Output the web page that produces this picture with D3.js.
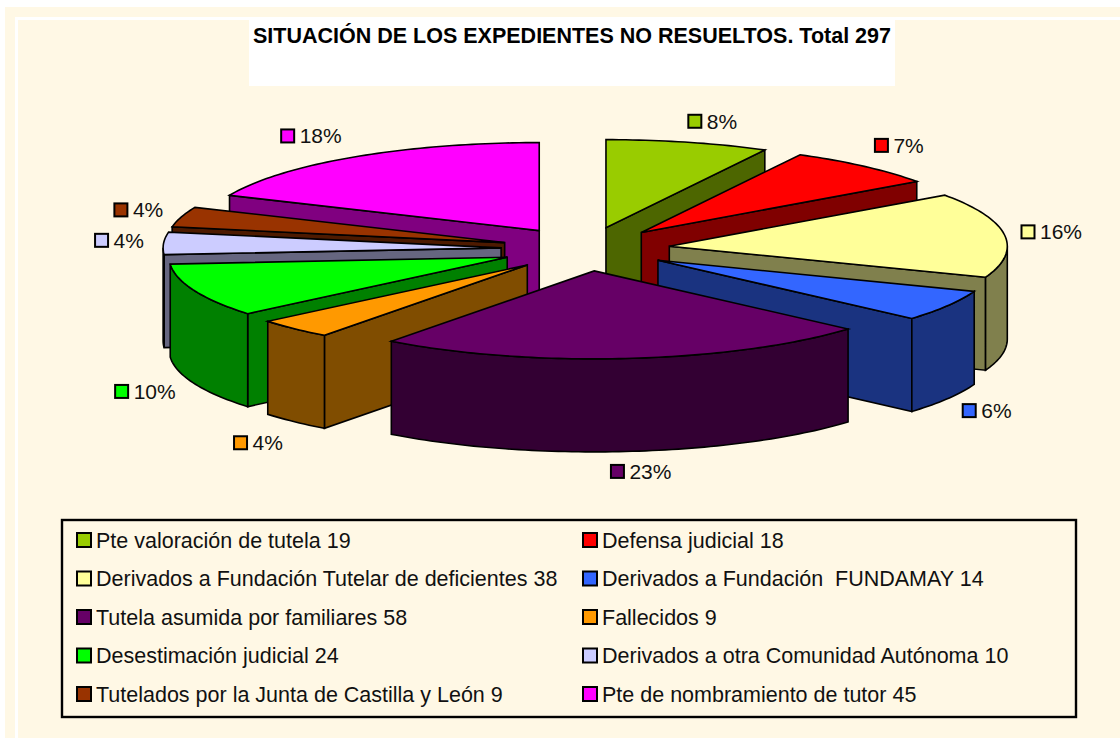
<!DOCTYPE html>
<html lang="es">

<head>
    <meta charset="UTF-8">
    <title>Expedientes no resueltos</title>
    <script src="https://d3js.org/d3.v7.min.js"></script>
    <style>
        html, body { margin: 0; padding: 0; background: #fff; }
        svg { display: block; font-family: "Liberation Sans", Arial, sans-serif; }
    </style>
</head>

<body>
    <svg id="chart" width="1120" height="740"></svg>

    <script>
        const titleText = "SITUACIÓN DE LOS EXPEDIENTES NO RESUELTOS. Total 297";
        const categories = [
            "Pte valoración de tutela 19",
            "Defensa judicial 18",
            "Derivados a Fundación Tutelar de deficientes 38",
            "Derivados a Fundación  FUNDAMAY 14",
            "Tutela asumida por familiares 58",
            "Fallecidos 9",
            "Desestimación judicial 24",
            "Derivados a otra Comunidad Autónoma 10",
            "Tutelados por la Junta de Castilla y León 9",
            "Pte de nombramiento de tutor 45"
        ];
        const values = [19, 18, 38, 14, 58, 9, 24, 10, 9, 45];
        const percentLabels = ["8%", "7%", "16%", "6%", "23%", "4%", "10%", "4%", "4%", "18%"];
        const colors = ["#99cc00", "#ff0000", "#ffff99", "#3366ff", "#660066",
            "#ff9900", "#00ff00", "#ccccff", "#993300", "#ff00ff"];

        // pie geometry
        const cx = 585.5, cy = 249;
        const rx = 338, ry = 88;
        const depth = 93;
        const explode = 0.25;
        // label centre relative to the rim middle of each slice
        const labelNudge = [[25, -21], [35, -21], [47, -3], [39.5, 12], [12, 20],
            [-36, 21], [-49, 8], [-44, -3], [-42.5, -7], [-43, -21]];

        const svg = d3.select("#chart");

        // background, the white frame only shows on the top and left
        svg.append("rect").attr("x", 5).attr("y", 7).attr("width", 1115).attr("height", 731).attr("fill", "#fff8e5");
        svg.append("path").attr("d", "M16.5,738V18.5H1120")
            .attr("fill", "none").attr("stroke", "#fff").attr("stroke-width", 3);

        // title box
        svg.append("rect").attr("x", 249).attr("y", 20).attr("width", 646).attr("height", 66).attr("fill", "#fff");
        svg.append("text")
            .attr("x", 572).attr("y", 43)
            .attr("text-anchor", "middle")
            .style("font-size", "21.5px")
            .style("font-weight", "bold")
            .text(titleText);

        const pie = d3.pie().sort(null).value(d => d);
        const arcs = pie(values).map((a, i) => ({ ...a, i, mid: (a.startAngle + a.endAngle) / 2 }));

        function darker(c) {
            const k = d3.rgb(c);
            return d3.rgb(k.r / 2, k.g / 2, k.b / 2).formatHex();
        }

        function apex(a) {
            return [cx + explode * rx * Math.sin(a.mid), cy - explode * ry * Math.cos(a.mid)];
        }

        function rim(a, t) {
            const p = apex(a);
            return [p[0] + rx * Math.sin(t), p[1] - ry * Math.cos(t)];
        }

        function rimPoints(a, t0, t1) {
            const n = Math.max(2, Math.ceil((t1 - t0) / 0.02));
            return d3.range(n + 1).map(k => rim(a, t0 + (t1 - t0) * k / n));
        }

        const line = d3.line();
        const down = p => [p[0], p[1] + depth];

        // back to front
        const drawOrder = arcs.slice().sort((a, b) =>
            Math.abs(b.mid - Math.PI) - Math.abs(a.mid - Math.PI));

        const slices = svg.append("g")
            .attr("stroke", "#000")
            .attr("stroke-width", 1.6)
            .attr("stroke-linejoin", "miter");

        drawOrder.forEach(a => {
            const g = slices.append("g");
            const side = darker(colors[a.i]);
            const p = apex(a);

            // straight walls that face the viewer
            if (a.startAngle > Math.PI) {
                const q = rim(a, a.startAngle);
                g.append("path").attr("fill", side)
                    .attr("d", line([p, q, down(q), down(p)]) + "Z");
            }
            if (a.endAngle < Math.PI) {
                const q = rim(a, a.endAngle);
                g.append("path").attr("fill", side)
                    .attr("d", line([p, q, down(q), down(p)]) + "Z");
            }

            // curved outer wall, front half only
            const t0 = Math.max(a.startAngle, Math.PI / 2);
            const t1 = Math.min(a.endAngle, Math.PI * 1.5);
            if (t1 > t0) {
                const top = rimPoints(a, t0, t1);
                g.append("path").attr("fill", side)
                    .attr("d", line(top.concat(top.slice().reverse().map(down))) + "Z");
            }

            // top face
            g.append("path").attr("fill", colors[a.i])
                .attr("d", line([p].concat(rimPoints(a, a.startAngle, a.endAngle))) + "Z");
        });

        // data labels
        const labels = svg.append("g").selectAll("g").data(arcs).join("g")
            .attr("transform", a => {
                const q = rim(a, a.mid);
                const below = Math.cos(a.mid) < 0 && Math.abs(Math.sin(a.mid)) < 0.98 ? depth : 0;
                return `translate(${q[0] + labelNudge[a.i][0]},${q[1] + below + labelNudge[a.i][1]})`;
            });
        labels.each(function (a) {
            const g = d3.select(this);
            const w = percentLabels[a.i].length > 2 ? 41 : 30;
            const x0 = -(w + 19) / 2;
            g.append("rect")
                .attr("x", x0).attr("y", -6.5)
                .attr("width", 13).attr("height", 13)
                .attr("fill", colors[a.i]).attr("stroke", "#000").attr("stroke-width", 2);
            g.append("text")
                .attr("x", x0 + 18.5).attr("y", 7.5)
                .style("font-size", "21px")
                .attr("fill", "#111")
                .text(percentLabels[a.i]);
        });

        // legend
        svg.append("rect").attr("x", 62).attr("y", 520).attr("width", 1014).attr("height", 197)
            .attr("fill", "none").attr("stroke", "#000").attr("stroke-width", 2.4);

        const legendX = d3.scaleOrdinal().domain([0, 1]).range([77, 583]);
        const legendY = d3.scaleLinear().domain([0, 4]).range([540, 694]);
        const legend = svg.append("g").selectAll("g").data(categories).join("g")
            .attr("transform", (d, i) => `translate(${legendX(i % 2)},${legendY(Math.floor(i / 2))})`);
        legend.append("rect")
            .attr("x", 0).attr("y", -7)
            .attr("width", 14).attr("height", 14)
            .attr("fill", (d, i) => colors[i]).attr("stroke", "#000").attr("stroke-width", 2);
        legend.append("text")
            .attr("x", 19).attr("y", 7.5)
            .style("font-size", "21.5px")
            .style("white-space", "pre")
            .attr("fill", "#111")
            .text(d => d);
    </script>
</body>

</html>
